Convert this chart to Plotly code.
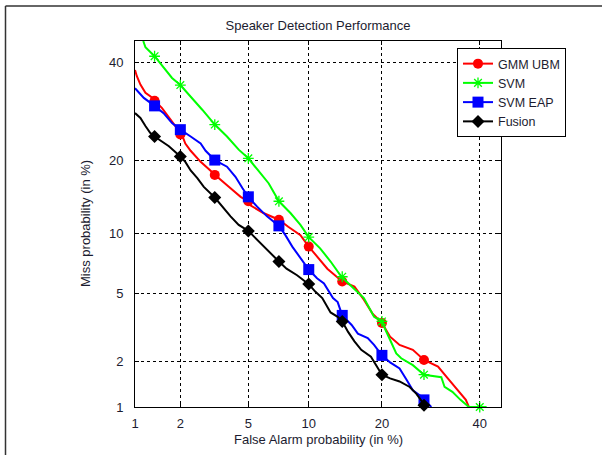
import plotly.graph_objects as go
from statistics import NormalDist

# ---------------- data (percent) ----------------
tick_vals = [1, 2, 5, 10, 20, 40]
tick_text = ["1", "2", "5", "10", "20", "40"]

svm_fa = [1.14, 1.18, 1.36, 1.56, 1.77, 2.0, 2.32, 2.73, 3.24, 3.81, 4.43, 5.0, 5.57, 6.4, 7.2,
          8.2, 9.15, 10.0, 11.25, 12.5, 13.9, 15.3, 17.1, 18.7, 20.0, 20.6, 21.4, 22.5, 23.4,
          25.6, 27.8, 31.4, 32.1, 33.8, 35.6, 37.5, 40.0, 41.6]
svm_miss = [45.0, 43.5, 41.4, 38.7, 36.4, 34.8, 32.3, 29.5, 26.5, 24.2, 21.8, 20.3, 18.5, 16.3, 13.8,
            12.3, 10.9, 9.6, 8.5, 7.33, 6.14, 5.45, 4.73, 3.72, 3.5, 3.13, 2.73, 2.25, 2.10,
            1.90, 1.65, 1.59, 1.37, 1.27, 1.12, 1.0, 1.0, 1.0]

gmm_fa = [1.0, 1.03, 1.09, 1.18, 1.32, 1.36, 1.52, 1.73, 1.9, 2.0, 2.06, 2.15, 2.32, 2.67, 3.24,
          3.49, 3.99, 4.54, 5.0, 5.1, 6.0, 7.2, 8.0, 9.15, 10.0, 10.9, 12.1, 14.0, 15.7, 17.1,
          18.5, 20.0, 21.4, 23.1, 25.6, 27.8, 30.7, 32.8, 34.9, 36.8, 37.5]
gmm_miss = [38.2, 36.8, 34.9, 33.1, 32.0, 31.4, 29.9, 27.5, 25.8, 24.6, 24.3, 22.9, 21.6, 19.7, 17.6,
            16.9, 15.6, 14.4, 13.8, 13.3, 12.3, 11.5, 10.7, 9.8, 8.66, 7.75, 6.75, 5.8, 5.45, 4.64,
            3.86, 3.43, 2.85, 2.54, 2.37, 2.05, 1.86, 1.56, 1.30, 1.12, 1.0]

eap_fa = [1.0, 1.15, 1.36, 1.56, 1.77, 2.0, 2.32, 2.67, 2.86, 3.24, 3.81, 4.25, 4.65, 5.0, 5.57,
          6.27, 7.2, 7.75, 8.37, 9.15, 10.0, 10.9, 11.7, 12.8, 13.4, 14.0, 15.3, 16.2, 17.7,
          18.7, 20.0, 21.4, 23.1, 24.4, 25.6, 27.0, 27.8, 29.3]
eap_miss = [34.1, 32.0, 30.3, 28.8, 26.8, 25.5, 24.2, 22.9, 21.6, 20.0, 18.9, 17.3, 15.6, 14.4, 13.1,
            11.9, 10.8, 9.8, 8.66, 7.6, 6.68, 6.03, 5.67, 4.73, 4.5, 3.79, 3.34, 2.97, 2.79,
            2.54, 2.19, 1.98, 1.81, 1.53, 1.30, 1.20, 1.12, 1.0]

fus_fa = [1.0, 1.09, 1.18, 1.27, 1.36, 1.52, 1.69, 2.0, 2.15, 2.32, 2.55, 2.79, 3.07, 3.24, 3.99,
          4.43, 5.0, 5.46, 6.0, 7.2, 7.85, 8.82, 10.0, 10.7, 11.5, 12.5, 13.4, 14.0, 14.8, 15.7,
          16.7, 18.2, 20.0, 21.4, 23.1, 25.0, 26.3, 27.8, 28.2]
fus_miss = [28.8, 27.8, 26.2, 24.9, 24.2, 23.2, 22.4, 20.6, 19.7, 18.3, 17.1, 15.8, 14.9, 14.3, 11.9,
            10.9, 10.25, 9.49, 8.66, 7.33, 6.75, 6.25, 5.62, 5.13, 4.73, 3.94, 3.72, 3.5, 3.04, 2.67,
            2.37, 2.15, 1.65, 1.56, 1.49, 1.37, 1.23, 1.03, 1.0]

marker_fa = [1.36, 2.0, 3.24, 5.0, 7.2, 10.0, 14.0, 20.0, 27.8, 40.0]
svm_mk = [41.4, 34.8, 26.5, 20.3, 13.8, 9.6, 6.14, 3.5, 1.65, 1.0]
gmm_mk = [31.4, 24.6, 17.6, 13.8, 11.5, 8.66, 5.8, 3.43, 2.05]
eap_mk = [30.3, 25.5, 20.0, 14.4, 10.8, 6.68, 3.79, 2.19, 1.12]
fus_mk = [24.2, 20.6, 14.3, 10.25, 7.33, 5.62, 3.5, 1.65, 1.03]

names = ["GMM UBM", "SVM", "SVM EAP", "Fusion"]
colors = ["#ff0000", "#00ff00", "#0000ff", "#000000"]

# ---------------- probit transform ----------------
nd = NormalDist()


def probit(vals):
    return [nd.inv_cdf(v / 100.0) for v in vals]


lo, hi = probit([1.0, 45.0])

fig = go.Figure()

series = [
    (gmm_fa, gmm_miss, gmm_mk, dict(symbol="circle", size=10, color=colors[0])),
    (svm_fa, svm_miss, svm_mk, dict(symbol="asterisk-open", size=9, color=colors[1],
                                    line=dict(color=colors[1], width=1.3))),
    (eap_fa, eap_miss, eap_mk, dict(symbol="square", size=11, color=colors[2])),
    (fus_fa, fus_miss, fus_mk, dict(symbol="diamond", size=10, color=colors[3])),
]

for name, col, (fa, miss, mk, mstyle) in zip(names, colors, series):
    fig.add_trace(go.Scatter(x=probit(fa), y=probit(miss), mode="lines",
                             line=dict(color=col, width=2), showlegend=False,
                             hoverinfo="skip"))
    fig.add_trace(go.Scatter(x=probit(marker_fa[:len(mk)]), y=probit(mk), mode="markers",
                             marker=mstyle, showlegend=False, cliponaxis=False))
    fig.add_trace(go.Scatter(x=[None], y=[None], mode="lines+markers", name=name,
                             line=dict(color=col, width=2), marker=mstyle))

font_family = "Arial, Liberation Sans, sans-serif"
txt_col = "#1c1c30"

axis_common = dict(
    range=[lo, hi], tickmode="array", tickvals=probit(tick_vals), ticktext=tick_text,
    showgrid=True, gridcolor="#000000", gridwidth=1, griddash="3px,3px",
    showline=True, linecolor="#000000", linewidth=1, mirror="ticks",
    ticks="inside", ticklen=4, tickcolor="#000000", zeroline=False,
    tickfont=dict(family=font_family, size=13, color=txt_col),
)

fig.update_layout(
    width=602, height=455,
    margin=dict(l=135, r=101, t=41, b=48),
    paper_bgcolor="white", plot_bgcolor="white",
    font=dict(family=font_family, size=13, color=txt_col),
    title=dict(text="Speaker Detection Performance", x=0.5, xref="paper",
               y=1 - 25 / 455, yref="container", yanchor="middle",
               font=dict(size=13, color=txt_col)),
    xaxis=dict(**axis_common, ticklabelstandoff=4),
    yaxis=dict(**axis_common, ticklabelstandoff=8),
    legend=dict(x=(457 - 135) / 366, y=(407 - 48) / 366, xanchor="left", yanchor="top",
                bgcolor="white", bordercolor="#000000", borderwidth=1,
                font=dict(size=12.5, color=txt_col), itemwidth=30, tracegroupgap=0,
                entrywidth=78, entrywidthmode="pixels"),
    annotations=[
        dict(text="False Alarm probability (in %)", x=0.5, y=(407 - 439) / 366,
             xref="paper", yref="paper", showarrow=False, xanchor="center", yanchor="middle",
             font=dict(size=13, color=txt_col)),
        dict(text="Miss probability (in %)", x=(85 - 135) / 366, y=0.5, textangle=-90,
             xref="paper", yref="paper", showarrow=False, xanchor="center", yanchor="middle",
             font=dict(size=13, color=txt_col)),
    ],
    shapes=[
        dict(type="line", xref="paper", yref="paper",
             x0=(5.5 - 135) / 366, x1=(5.5 - 135) / 366,
             y0=(407 - 6) / 366, y1=(407 - 460) / 366,
             line=dict(color="#333333", width=1.5)),
        dict(type="line", xref="paper", yref="paper",
             x0=(5.5 - 135) / 366, x1=(605 - 135) / 366,
             y0=(407 - 6) / 366, y1=(407 - 6) / 366,
             line=dict(color="#333333", width=1.5)),
    ],
)

fig.write_html("out.html", config={"displayModeBar": False},
               post_script="document.body.style.margin='0px';")
